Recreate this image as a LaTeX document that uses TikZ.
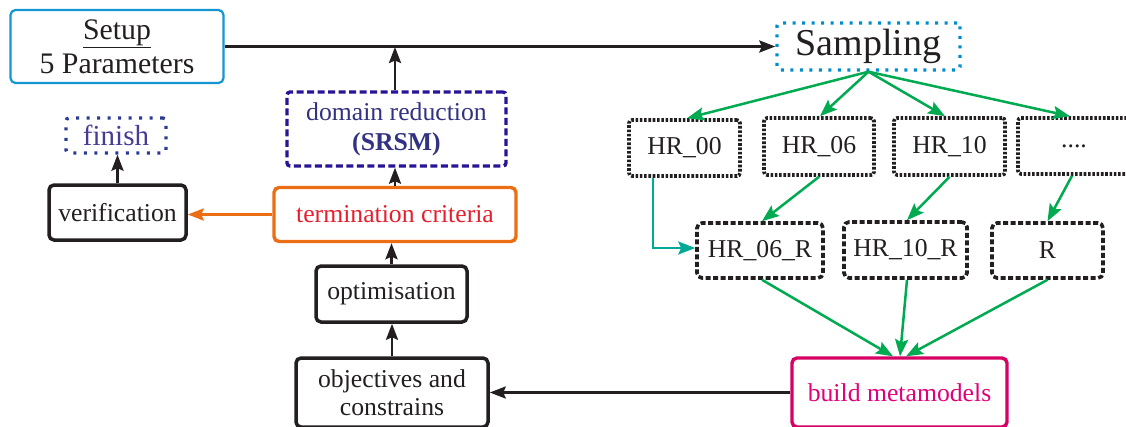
\documentclass[tikz,border=0pt]{standalone}
\usepackage{fontspec}
\setmainfont{Liberation Serif}
\usetikzlibrary{arrows.meta}
\definecolor{dark}{RGB}{35,31,32}
\definecolor{setupblue}{RGB}{20,150,210}
\definecolor{sampblue}{RGB}{0,140,205}
\definecolor{domline}{RGB}{40,20,150}
\definecolor{domtext}{RGB}{50,50,130}
\definecolor{finline}{RGB}{40,60,150}
\definecolor{fintext}{RGB}{70,60,150}
\definecolor{orangeline}{RGB}{235,110,20}
\definecolor{termred}{RGB}{230,30,45}
\definecolor{magline}{RGB}{215,0,100}
\definecolor{magtext}{RGB}{225,0,120}
\definecolor{greenline}{RGB}{0,170,80}
\definecolor{tealline}{RGB}{0,170,150}
\newcommand{\fsbase}{\fontsize{25.7pt}{28pt}\selectfont}
\begin{document}
\begin{tikzpicture}[x=1pt,y=-1pt,
  box/.style={rectangle, rounded corners=5pt, inner sep=0pt, align=center, font=\fsbase, text=dark},
  solidbox/.style={box, draw=dark, line width=3.5pt},
  dotbox/.style={box, draw=dark, line width=3.6pt, dash pattern=on 2.6pt off 1.7pt, rounded corners=3pt},
  dashbox/.style={box, draw=dark, line width=3.6pt, dash pattern=on 5pt off 2.5pt},
  arr/.style={draw=dark, line width=2.6pt, -{Stealth[length=16pt,width=12pt,inset=2.5pt]}},
  garr/.style={draw=greenline, line width=2.5pt, -{Stealth[length=17pt,width=13pt,inset=3pt]}},
  tarr/.style={draw=tealline, line width=2.5pt, -{Stealth[length=17pt,width=13pt,inset=3pt]}},
  oarr/.style={draw=orangeline, line width=2.8pt, -{Stealth[length=16pt,width=12pt,inset=2.5pt]}}
]
\useasboundingbox[fill=white] (0,0) rectangle (1126,426);

% left column
\node[box, draw=setupblue, line width=2.2pt, minimum width=213pt, minimum height=73pt,
      font=\fontsize{29.8pt}{34pt}\selectfont] (setup) at (117,46.5) {\underline{Setup}\\5 Parameters};
\node[box, draw=sampblue, line width=3.4pt, dash pattern=on 3pt off 6.5pt, rounded corners=3pt,
      minimum width=183pt, minimum height=47pt, font=\fontsize{38pt}{40pt}\selectfont] (sampling) at (868.5,46.5) {Sampling};
\node[box, draw=domline, line width=3.4pt, dash pattern=on 7pt off 3.5pt, rounded corners=3pt,
      minimum width=219pt, minimum height=74pt, text=domtext, font=\fontsize{25.7pt}{30pt}\selectfont] (domain) at (396.5,129) {domain reduction\\\textbf{(SRSM)}};
\node[box, draw=finline, line width=3.4pt, dash pattern=on 3pt off 7.5pt, rounded corners=3pt,
      minimum width=100pt, minimum height=35pt, text=fintext, font=\fontsize{29pt}{30pt}\selectfont] (finish) at (116,135.5) {finish};
\node[solidbox, minimum width=137pt, minimum height=55pt] (verif) at (117.5,212.5) {verification};
\node[box, draw=orangeline, line width=3.4pt, minimum width=242pt, minimum height=54pt, text=termred] (term) at (395,214.5) {termination criteria};
\node[solidbox, minimum width=151pt, minimum height=56pt] (optim) at (391.5,294) {optimisation};
\node[solidbox, minimum width=192pt, minimum height=69pt, font=\fontsize{25.7pt}{27.5pt}\selectfont] (obj) at (392,392.5) {objectives and\\constrains};
\node[box, draw=magline, line width=3.4pt, minimum width=215pt, minimum height=69pt, text=magtext] (build) at (899.5,392.5) {build metamodels};

% sample boxes
\node[dotbox, minimum width=111pt, minimum height=56pt] (hr00) at (684.5,148) {HR\_00};
\node[dotbox, minimum width=110pt, minimum height=57pt] (hr06) at (819,146.5) {HR\_06};
\node[dotbox, minimum width=111pt, minimum height=57pt] (hr10) at (949.5,146.5) {HR\_10};
\node[dotbox, minimum width=112pt, minimum height=56pt] (dots) at (1074,146) {....};
\node[dashbox, minimum width=126pt, minimum height=55pt] (hr06r) at (760,250.5) {HR\_06\_R};
\node[dashbox, minimum width=123pt, minimum height=56pt] (hr10r) at (905.5,250) {HR\_10\_R};
\node[dashbox, minimum width=111pt, minimum height=55pt] (r) at (1047.5,250.5) {R};

% connectors
\coordinate (join) at (395,47);
\draw[arr] (setup.east) -- (sampling.west);
\draw[arr] (domain.north -| join) -- (join);
\draw[arr] (term.north) -- (term.north |- domain.south);
\draw[arr] (optim.north) -- (optim.north |- term.south);
\draw[arr] (obj.north) -- (obj.north |- optim.south);
\draw[oarr] (term.west) -- (term.west -| verif.east);
\draw[arr] (verif.north) -- (verif.north |- finish.south);
\draw[arr] (build.west) -- (obj.east);

\draw[garr] (sampling.south) -- ([xshift=2.5pt]hr00.north);
\draw[garr] (sampling.south) -- ([xshift=1pt]hr06.north);
\draw[garr] (sampling.south) -- ([xshift=-4.5pt]hr10.north);
\draw[garr] (sampling.south) -- ([xshift=-4pt]dots.north);
\draw[garr] (hr06.south) -- ([xshift=2pt]hr06r.north);
\draw[garr] (hr10.south) -- ([xshift=1.5pt]hr10r.north);
\draw[garr] ([xshift=-2pt]dots.south) -- (r.north);
\draw[tarr] ([xshift=-31.5pt]hr00.south) |- ([yshift=2.5pt]hr06r.west);
\draw[garr] ([xshift=2pt]hr06r.south) -- ([xshift=-6.5pt]build.north);
\draw[garr] ([xshift=1.5pt]hr10r.south) -- ([xshift=0.5pt]build.north);
\draw[garr] (r.south) -- ([xshift=6.5pt]build.north);
\end{tikzpicture}
\end{document}
